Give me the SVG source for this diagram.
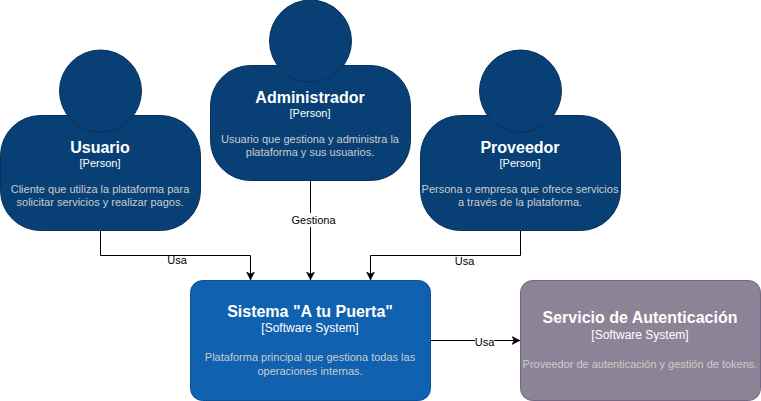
<svg xmlns="http://www.w3.org/2000/svg" width="761" height="401" viewBox="0 0 761 401">
<style>
text{font-family:"Liberation Sans",Arial,sans-serif;text-anchor:middle}
.t{font-size:16px;font-weight:bold;fill:#fff}
.s{font-size:11px;fill:#fff}
.b{font-size:12px;fill:#fff}
.d{font-size:11px;fill:#ccc}
.l{font-size:11px;fill:#000}
.p{fill:#083f75;stroke:#06315c}
.c{fill:none;stroke:#000;stroke-width:1;marker-end:url(#a)}
</style>
<defs>
<marker id="a" markerUnits="userSpaceOnUse" markerWidth="10" markerHeight="10" refX="8" refY="4" orient="auto" viewBox="0 0 10 8"><path d="M0 0L8 4L0 8L2 4Z" fill="#000" stroke="#000" stroke-width="0.5"/></marker>
</defs>
<g id="connectors">
<path class="c" d="M100.500 230.500V255.500H250.500V280"/>
<path class="c" d="M310.500 180.500V280"/>
<path class="c" d="M520.500 230.500V255.500H370.500V280"/>
<path class="c" d="M430.500 340.500H520"/>
</g>
<g id="usuario">
<rect class="p" x="0.500" y="115.500" width="200" height="115" rx="40" ry="40"/>
<circle class="p" cx="100.500" cy="91" r="41"/>
<text class="t" x="100" y="153">Usuario</text>
<text class="s" x="100" y="167">[Person]</text>
<text class="d" x="100" y="193">Cliente que utiliza la plataforma para</text>
<text class="d" x="100" y="206">solicitar servicios y realizar pagos.</text>
</g>
<g id="administrador">
<rect class="p" x="210.500" y="65.500" width="200" height="115" rx="40" ry="40"/>
<circle class="p" cx="310.500" cy="41" r="41"/>
<text class="t" x="310" y="103">Administrador</text>
<text class="s" x="310" y="117">[Person]</text>
<text class="d" x="310" y="143">Usuario que gestiona y administra la</text>
<text class="d" x="310" y="156">plataforma y sus usuarios.</text>
</g>
<g id="proveedor">
<rect class="p" x="420.500" y="115.500" width="200" height="115" rx="40" ry="40"/>
<circle class="p" cx="520.500" cy="91" r="41"/>
<text class="t" x="520" y="153">Proveedor</text>
<text class="s" x="520" y="167">[Person]</text>
<text class="d" x="520" y="193">Persona o empresa que ofrece servicios</text>
<text class="d" x="520" y="206">a través de la plataforma.</text>
</g>
<g id="sistema">
<rect x="190.500" y="280.500" width="240" height="120" rx="12" ry="12" fill="#1061b0" stroke="#0d5091"/>
<text class="t" x="310" y="317">Sistema "A tu Puerta"</text>
<text class="b" x="310" y="332">[Software System]</text>
<text class="d" x="310" y="361">Plataforma principal que gestiona todas las</text>
<text class="d" x="310" y="375">operaciones internas.</text>
</g>
<g id="autenticacion">
<rect x="520.500" y="280.500" width="240" height="120" rx="12" ry="12" fill="#8c8496" stroke="#736782"/>
<text class="t" x="640" y="323">Servicio de Autenticación</text>
<text class="b" x="640" y="339">[Software System]</text>
<text class="d" x="640" y="368">Proveedor de autenticación y gestión de tokens.</text>
</g>
<g id="labels">
<rect x="290" y="213" width="47" height="14" fill="#fff"/>
<text class="l" x="313.500" y="224">Gestiona</text>
<rect x="167" y="256" width="20" height="11" fill="#fff"/>
<text class="l" x="177" y="264">Usa</text>
<rect x="455" y="256" width="19" height="11" fill="#fff"/>
<text class="l" x="464.500" y="265">Usa</text>
<rect x="475" y="336" width="19" height="11" fill="#fff"/>
<text class="l" x="484.500" y="346">Usa</text>
</g>
</svg>
